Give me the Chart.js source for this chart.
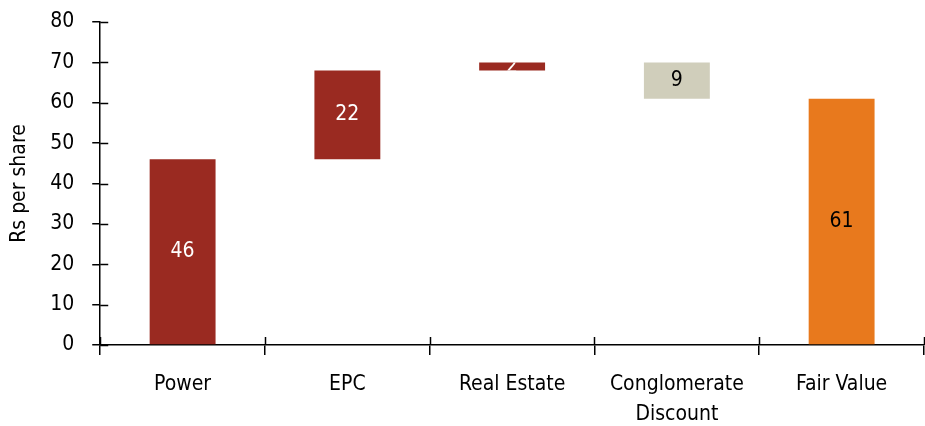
<!DOCTYPE html>
<html>
<head>
<meta charset="utf-8">
<script src="https://cdn.jsdelivr.net/npm/chart.js@4/dist/chart.umd.min.js"></script>
<style>
  html, body { margin: 0; padding: 0; background: #fff; }
  #wrap { width: 925px; height: 426px; }
</style>
</head>
<body>
<div id="wrap"><canvas id="sotp"></canvas></div>
<script>
// sum-of-the-parts build-up, Rs per share
var categories = ["Power", "EPC", "Real Estate", ["Conglomerate", "Discount"], "Fair Value"];
var stepValues = [46, 22, 2, -9, 61];
var isTotal = [false, false, false, false, true];
var barColors = ["#9a2a21", "#9a2a21", "#9a2a21", "#d0cebb", "#e8791d"];
var labelColors = ["#ffffff", "#ffffff", "#ffffff", "#000000", "#000000"];
var yTicks = [0, 10, 20, 30, 40, 50, 60, 70, 80];

var FONT = "'DejaVu Sans Condensed', 'Liberation Sans Narrow', sans-serif";

// turn the steps into floating [from, to] bars
var running = 0;
var floating = stepValues.map(function (v, i) {
  if (isTotal[i]) { running = v; return [0, v]; }
  var from = running;
  running += v;
  return [Math.min(from, running), Math.max(from, running)];
});

// inner half of the tick marks (they cross the axis line)
var innerTicks = {
  id: 'innerTicks',
  afterDraw: function (chart) {
    var ctx = chart.ctx, a = chart.chartArea;
    var y = chart.scales.y, x = chart.scales.x;
    ctx.save();
    ctx.strokeStyle = '#000';
    ctx.lineWidth = 1.5;
    yTicks.forEach(function (t) {
      var py = Math.round(y.getPixelForValue(t)) + 0.5;
      ctx.beginPath();
      ctx.moveTo(a.left, py);
      ctx.lineTo(a.left + 8, py);
      ctx.stroke();
    });
    for (var i = 0; i <= categories.length; i++) {
      var px = Math.round(x.getPixelForValue(i - 0.5)) + 0.5;
      ctx.beginPath();
      ctx.moveTo(px, a.bottom);
      ctx.lineTo(px, a.bottom - 8);
      ctx.stroke();
    }
    ctx.restore();
  }
};

// value labels in the middle of each bar, clipped to the bar
var barLabels = {
  id: 'barLabels',
  afterDatasetsDraw: function (chart) {
    var ctx = chart.ctx;
    var meta = chart.getDatasetMeta(0);
    meta.data.forEach(function (bar, i) {
      var p = bar.getProps(['x', 'y', 'base', 'width'], true);
      var top = Math.min(p.y, p.base), bot = Math.max(p.y, p.base);
      ctx.save();
      ctx.beginPath();
      ctx.rect(p.x - p.width / 2, top, p.width, bot - top);
      ctx.clip();
      ctx.fillStyle = labelColors[i];
      ctx.font = '21px ' + FONT;
      ctx.textAlign = 'center';
      ctx.textBaseline = 'middle';
      ctx.fillText(String(Math.abs(stepValues[i])), p.x, (top + bot) / 2);
      ctx.restore();
    });
  }
};

new Chart(document.getElementById('sotp'), {
  type: 'bar',
  data: {
    labels: categories,
    datasets: [{
      data: floating,
      backgroundColor: barColors,
      borderWidth: 0,
      barPercentage: 0.4,
      categoryPercentage: 1
    }]
  },
  options: {
    responsive: true,
    maintainAspectRatio: false,
    animation: false,
    layout: { padding: { top: 0, right: 1, left: 7, bottom: 0 } },
    plugins: {
      legend: { display: false },
      tooltip: { enabled: false }
    },
    scales: {
      x: {
        offset: true,
        afterFit: function (s) { s.height = 81; },
        border: { color: '#000', width: 1.5 },
        grid: { offset: true, drawOnChartArea: false, color: '#000', lineWidth: 1.5, tickLength: 10 },
        ticks: { color: '#000', font: { family: FONT, size: 21, lineHeight: 1.4 }, padding: 15, maxRotation: 0, autoSkip: false },
      },
      y: {
        min: 0,
        max: 80,
        afterBuildTicks: function (s) { s.ticks = yTicks.map(function (v) { return { value: v }; }); },
        // room above the top label without the tick padding
        afterFit: function (s) { s.paddingTop = 22; s.paddingBottom = 13; },
        border: { color: '#000', width: 1.5 },
        grid: { drawOnChartArea: false, color: '#000', lineWidth: 1.5, tickLength: 8 },
        ticks: { color: '#000', font: { family: FONT, size: 21 }, padding: 18 },
        title: { display: true, text: 'Rs per share', color: '#000', font: { family: FONT, size: 21 }, padding: { top: 0, bottom: 0 } }
      }
    }
  },
  plugins: [innerTicks, barLabels]
});
</script>
</body>
</html>
